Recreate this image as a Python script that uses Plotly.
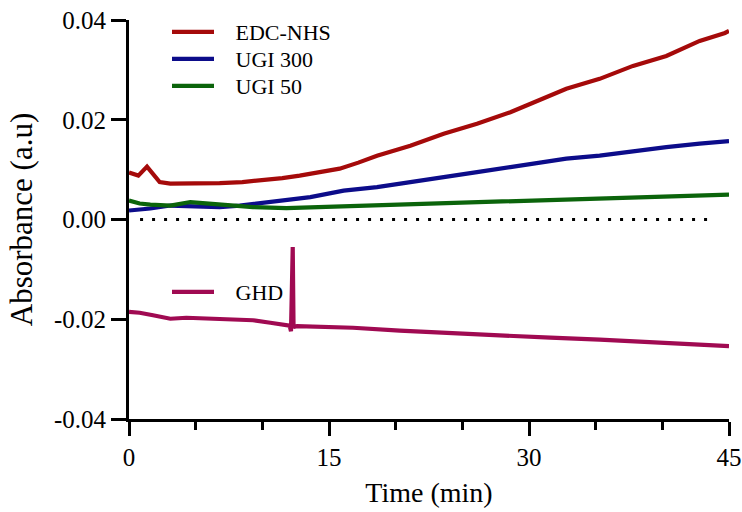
import plotly.graph_objects as go

# ---------------- data ----------------
edc_t = [0, 0.7, 1.35, 2.3, 3.1, 5.0, 6.8, 8.5, 9.8, 11.5, 12.8, 14.3, 15.8, 17.2, 18.6,
         21.1, 23.6, 26.1, 28.6, 30.3, 32.8, 35.3, 37.8, 40.3, 42.8, 44.7, 45]
edc_v = [0.0094, 0.0088, 0.0106, 0.0075, 0.0072, 0.0072, 0.0073, 0.0075, 0.0078, 0.0083, 0.0088,
         0.0096, 0.0102, 0.0114, 0.0128, 0.0148, 0.0172, 0.0192, 0.0215, 0.0234, 0.0262,
         0.0282, 0.0308, 0.0328, 0.0358, 0.0374, 0.0378]

ugi300_t = [0, 1.6, 3.1, 5.0, 6.8, 8.3, 10.6, 13.6, 16.1, 18.6, 21.1, 23.6, 26.1, 28.6,
            30.3, 32.8, 35.3, 37.8, 40.3, 42.8, 44.7, 45]
ugi300_v = [0.0018, 0.0022, 0.0028, 0.0026, 0.0025, 0.0028, 0.0035, 0.0045, 0.0058, 0.0065,
            0.0075, 0.0084, 0.0095, 0.0105, 0.0112, 0.0122, 0.0128, 0.0137, 0.0145, 0.0152,
            0.0156, 0.0157]

ugi50_t = [0, 0.8, 1.6, 3.1, 4.6, 6.8, 9.3, 11.8, 14.3, 16.1, 18.6, 21.1, 23.6, 26.1, 28.6,
           32.8, 37.8, 42.8, 44.7, 45]
ugi50_v = [0.0038, 0.0032, 0.0030, 0.0028, 0.0035, 0.0030, 0.0025, 0.0023, 0.0025, 0.0026,
           0.0028, 0.0031, 0.0033, 0.0035, 0.0037, 0.0039, 0.0045, 0.0049, 0.0050, 0.0050]

ghd_t = [0, 0.8, 1.8, 3.1, 4.3, 6.8, 9.3, 10.6, 11.8, 12.05, 12.15, 12.28, 12.34, 12.42, 12.6,
         14.5, 16.8, 20.3, 24.1, 27.8, 31.6, 35.3, 39.1, 42.8, 45]
ghd_v = [-0.0185, -0.0187, -0.0192, -0.0199, -0.0197, -0.0199, -0.0202, -0.0207, -0.0211,
         -0.0213, -0.0224, -0.0055, -0.0213, -0.0215, -0.0214, -0.0215, -0.0217, -0.0223,
         -0.0227, -0.0232, -0.0237, -0.0241, -0.0246, -0.0251, -0.0254]

x_ticks = [0, 15, 30, 45]
y_ticks = [-0.04, -0.02, 0.00, 0.02, 0.04]
y_tick_text = ["-0.04", "-0.02", "0.00", "0.02", "0.04"]

FONT = "Liberation Serif"
W, H = 742, 512
ML, MR, MT, MB = 129, 13, 20, 93
PW, PH = W - ML - MR, H - MT - MB

fig = go.Figure()
# name, x, y, colour, legend id, legend centre row (pixels)
series = [
    ("EDC-NHS", edc_t, edc_v, "#A50A0A", "legend", 32),
    ("UGI 300", ugi300_t, ugi300_v, "#0C0C8A", "legend2", 59),
    ("UGI 50", ugi50_t, ugi50_v, "#0B640B", "legend3", 86),
    ("GHD", ghd_t, ghd_v, "#A00A52", "legend4", 292),
]
legend_font = dict(size=22, family=FONT, color="black")
legends = {}
for name, t, v, c, lg, row in series:
    fig.add_trace(go.Scatter(x=t, y=v, mode="lines", name="\u00a0\u00a0\u00a0" + name,
                             line=dict(color=c, width=4.2), legend=lg, showlegend=True))
    legends[lg] = dict(x=(167 - ML) / PW, y=(H - MB - row) / PH,
                       xanchor="left", yanchor="middle", visible=True,
                       bgcolor="rgba(0,0,0,0)", font=legend_font, itemwidth=42)

# dotted zero reference line
fig.add_shape(type="line", xref="x", yref="y", x0=0.83, x1=44, y0=0, y1=0,
              line=dict(color="black", width=3, dash="3px,9px"), layer="below")

fig.update_layout(
    width=W, height=H, showlegend=True,
    margin=dict(l=ML, r=MR, t=MT, b=MB, autoexpand=False),
    paper_bgcolor="white", plot_bgcolor="white",
    font=dict(family=FONT, size=25, color="black"),
    **legends,
    xaxis=dict(range=[0, 45], tickvals=x_ticks, showline=True, linewidth=3,
               linecolor="black", ticks="outside", ticklen=14, tickwidth=3,
               tickcolor="black", showgrid=False, zeroline=False, automargin=False,
               tickfont=dict(family=FONT, size=25, color="black"),
               minor=dict(dtick=5, tick0=0, ticks="outside", ticklen=8,
                          tickwidth=3, tickcolor="black", showgrid=False),
               title=dict(text="Time (min)", font=dict(family=FONT, size=28),
                          standoff=13)),
    yaxis=dict(range=[-0.04, 0.04], tickvals=y_ticks, ticktext=y_tick_text,
               showline=True, linewidth=3, linecolor="black", ticks="outside",
               ticklen=15, tickwidth=3, tickcolor="black", showgrid=False,
               zeroline=False, automargin=False,
               tickfont=dict(family=FONT, size=25, color="black"),
               title=dict(text="Absorbance (a.u)", font=dict(family=FONT, size=31),
                          standoff=13)),
)

fig.write_html("out.html")
